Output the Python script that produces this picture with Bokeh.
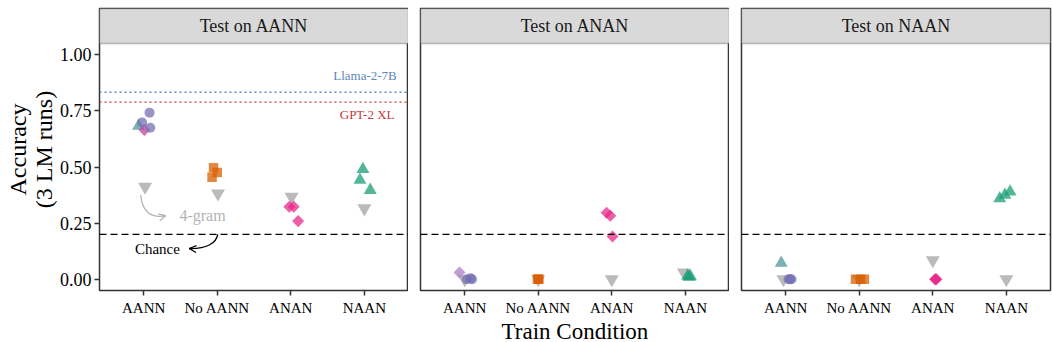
from bokeh.plotting import figure
from bokeh.layouts import row
from bokeh.models import (ColumnDataSource, Range1d, FixedTicker, NumeralTickFormatter,
                          Span, Label, BoxAnnotation, Arrow, OpenHead)
from bokeh.embed import file_html
from bokeh.resources import INLINE

# ---------------- data ----------------
categories = ["AANN", "No AANN", "ANAN", "NAAN"]
panel_titles = ["Test on AANN", "Test on ANAN", "Test on NAAN"]
y_ticks = [0.0, 0.25, 0.5, 0.75, 1.0]

# LM runs per panel: train condition, accuracy, small jitter, point style
p1_train = ["AANN", "AANN", "AANN", "AANN", "AANN", "No AANN", "No AANN", "No AANN",
            "ANAN", "ANAN", "ANAN", "NAAN", "NAAN", "NAAN"]
p1_acc = [0.683, 0.665, 0.742, 0.698, 0.675, 0.497, 0.475, 0.454,
          0.323, 0.323, 0.259, 0.490, 0.442, 0.397]
p1_jit = [-0.07, 0.01, 0.08, -0.02, 0.09, -0.05, 0.0, -0.07,
          -0.02, 0.04, 0.10, -0.02, -0.06, 0.08]
p1_style = ["tri_b", "dia_m", "circle", "circle", "circle", "square", "square", "square",
            "diamond", "diamond", "diamond", "triangle", "triangle", "triangle"]

p2_train = ["AANN", "AANN", "AANN", "AANN", "No AANN", "No AANN", "No AANN",
            "ANAN", "ANAN", "ANAN", "NAAN", "NAAN", "NAAN"]
p2_acc = [0.030, 0.004, 0.0, 0.0, 0.0, 0.0, 0.0,
          0.296, 0.283, 0.190, 0.015, 0.012, 0.010]
p2_jit = [-0.07, 0.08, 0.03, 0.10, -0.01, 0.01, 0.0,
          -0.07, -0.02, 0.01, 0.03, 0.07, 0.05]
p2_style = ["dia_l", "circle", "circle", "circle", "square", "square", "square",
            "diamond", "diamond", "diamond", "triangle", "triangle", "triangle"]

p3_train = ["AANN", "AANN", "AANN", "AANN", "No AANN", "No AANN", "No AANN",
            "ANAN", "ANAN", "ANAN", "NAAN", "NAAN", "NAAN"]
p3_acc = [0.073, 0.0, 0.0, 0.0, 0.0, 0.0, 0.0,
          0.0, 0.0, 0.0, 0.360, 0.375, 0.390]
p3_jit = [-0.06, 0.04, 0.06, 0.08, -0.05, 0.02, 0.07,
          0.03, 0.04, 0.05, -0.09, -0.02, 0.05]
p3_style = ["tri_b", "circle", "circle", "circle", "square", "square", "square",
            "diamond", "diamond", "diamond", "triangle", "triangle", "triangle"]

# 4-gram baseline per panel (one per train condition)
p1_ngram = [0.412, 0.382, 0.367, 0.316]
p2_ngram = [0.0, 0.0, 0.0, 0.030]
p3_ngram = [0.0, 0.0, 0.085, 0.0]
p1_ngram_jit = [0.02, 0.01, 0.01, 0.0]
p2_ngram_jit = [0.0, 0.0, 0.0, -0.02]
p3_ngram_jit = [-0.03, 0.0, 0.0, 0.0]

chance = 0.2
llama_acc = 0.833
gpt2_acc = 0.789

# ---------------- styles ----------------
STYLES = {
    "circle":   dict(marker="circle", color="#7570B3", size=10, angle=0.0),
    "square":   dict(marker="square", color="#D95F02", size=9.5, angle=0.0),
    "diamond":  dict(marker="square", color="#E7298A", size=8.5, angle=0.785398),
    "triangle": dict(marker="triangle", color="#1B9E77", size=13, angle=0.0),
    "tri_b":    dict(marker="triangle", color="#4f979c", size=13, angle=0.0),
    "dia_m":    dict(marker="square", color="#c2449a", size=8.5, angle=0.785398),
    "dia_l":    dict(marker="square", color="#b07cc6", size=8.5, angle=0.785398),
}
SERIF = "Liberation Serif"
DARK = "#333333"

panels = [
    (p1_train, p1_acc, p1_jit, p1_style, p1_ngram, p1_ngram_jit),
    (p2_train, p2_acc, p2_jit, p2_style, p2_ngram, p2_ngram_jit),
    (p3_train, p3_acc, p3_jit, p3_style, p3_ngram, p3_ngram_jit),
]

FRAME_H = 282
STRIP_H = 35
Y0, Y1 = -0.05, 1.05
Y_TOP = Y1 + STRIP_H * (Y1 - Y0) / (FRAME_H - STRIP_H)

borders = [(99, 0), (12, 0), (12, 2)]
figs = []
for i, (train, acc, jit, style, ngram, ngram_jit) in enumerate(panels):
    bl, br = borders[i]
    p = figure(frame_width=309, frame_height=FRAME_H, output_backend="svg",
               toolbar_location=None, x_range=Range1d(0.4, 4.6),
               y_range=Range1d(Y0, Y_TOP),
               min_border_left=bl, min_border_right=br, min_border_top=8,
               min_border_bottom=52)
    p.background_fill_color = "white"
    p.border_fill_color = "white"
    p.outline_line_color = DARK
    p.outline_line_width = 1.5
    p.xgrid.visible = False
    p.ygrid.visible = False

    # strip
    p.add_layout(BoxAnnotation(bottom=Y1, top=Y_TOP, fill_color="#d9d9d9", fill_alpha=1.0,
                               line_color=DARK, line_width=1.5, level="underlay"))
    p.add_layout(Label(x=2.5, y=(Y1 + Y_TOP) / 2, text=panel_titles[i], text_align="center",
                       text_baseline="middle", text_font=SERIF, text_font_size="18px",
                       text_color="#1a1a1a"))

    # chance line
    p.add_layout(Span(location=chance, dimension="width", line_color="black",
                      line_dash="7 4", line_width=1.4))

    # 4-gram
    ng_src = ColumnDataSource(dict(
        x=[k + 1 + j for k, j in enumerate(ngram_jit)], y=ngram))
    p.scatter("x", "y", source=ng_src, marker="inverted_triangle", size=14,
              fill_color="#a3a3a3", fill_alpha=0.75, line_color=None)

    # LM runs
    xs = [categories.index(t) + 1 + j for t, j in zip(train, jit)]
    order = ["tri_b", "dia_m", "dia_l", "circle", "square", "diamond", "triangle"]
    for s in order:
        idx = [k for k, st in enumerate(style) if st == s]
        if not idx:
            continue
        st = STYLES[s]
        src = ColumnDataSource(dict(x=[xs[k] for k in idx], y=[acc[k] for k in idx]))
        p.scatter("x", "y", source=src, marker=st["marker"], size=st["size"],
                  angle=st["angle"], fill_color=st["color"], fill_alpha=0.75,
                  line_color=None)

    # axes
    p.xaxis.ticker = FixedTicker(ticks=[1, 2, 3, 4])
    p.xaxis.major_label_overrides = {k + 1: c for k, c in enumerate(categories)}
    p.xaxis.major_label_text_font = SERIF
    p.xaxis.major_label_text_font_size = "15px"
    p.xaxis.major_label_text_color = "black"
    p.xaxis.major_label_standoff = 4
    for ax in (p.xaxis, p.yaxis):
        ax.axis_line_color = None
        ax.major_tick_line_color = DARK
        ax.major_tick_line_width = 1.5
        ax.major_tick_out = 5
        ax.major_tick_in = 0
        ax.minor_tick_line_color = None
    p.yaxis.ticker = FixedTicker(ticks=y_ticks)
    p.yaxis.formatter = NumeralTickFormatter(format="0.00")
    p.yaxis.major_label_text_font = SERIF
    p.yaxis.major_label_text_font_size = "18px"
    p.yaxis.major_label_text_color = "black"
    p.yaxis.major_label_standoff = 3
    if i == 0:
        p.yaxis.axis_label = "Accuracy\n(3 LM runs)"
        p.yaxis.axis_label_text_font = SERIF
        p.yaxis.axis_label_text_font_size = "24px"
        p.yaxis.axis_label_text_font_style = "normal"
        p.yaxis.axis_label_text_line_height = 1.0
        p.yaxis.axis_label_standoff = 0
        p.yaxis.axis_label_text_color = "black"
    else:
        p.yaxis.visible = False
    if i == 1:
        p.xaxis.axis_label = "Train Condition"
        p.xaxis.axis_label_text_font = SERIF
        p.xaxis.axis_label_text_font_size = "23px"
        p.xaxis.axis_label_text_font_style = "normal"
        p.xaxis.axis_label_standoff = 0
        p.xaxis.axis_label_text_color = "black"

    if i == 0:
        # model reference lines
        p.add_layout(Span(location=llama_acc, dimension="width", line_color="#5b8cc4",
                          line_dash="2 3", line_width=1.3))
        p.add_layout(Span(location=gpt2_acc, dimension="width", line_color="#d1363b",
                          line_dash="2 3", line_width=1.3))
        p.add_layout(Label(x=4.44, y=0.907, text="Llama-2-7B", text_align="right",
                           text_baseline="middle", text_font=SERIF, text_font_size="13px",
                           text_color="#5b87bd"))
        p.add_layout(Label(x=4.41, y=0.732, text="GPT-2 XL", text_align="right",
                           text_baseline="middle", text_font=SERIF, text_font_size="13px",
                           text_color="#c43a3a"))
        # 4-gram annotation
        p.add_layout(Label(x=1.80, y=0.283, text="4-gram", text_align="center",
                           text_baseline="middle", text_font=SERIF, text_font_size="16px",
                           text_color="#b3b3b3"))
        p.bezier(x0=[0.96], y0=[0.375], cx0=[0.98], cy0=[0.30], cx1=[1.10], cy1=[0.27],
                 x1=[1.30], y1=[0.283], line_color="#b3b3b3", line_width=1.3)
        p.add_layout(Arrow(end=OpenHead(size=7, line_color="#b3b3b3", line_width=1.3),
                           x_start=1.26, y_start=0.280, x_end=1.30, y_end=0.283,
                           line_color="#b3b3b3", line_width=1.3))
        # chance annotation
        p.add_layout(Label(x=1.187, y=0.137, text="Chance", text_align="center",
                           text_baseline="middle", text_font=SERIF, text_font_size="15px",
                           text_color="black"))
        p.bezier(x0=[2.006], y0=[0.2], cx0=[1.99], cy0=[0.16], cx1=[1.85], cy1=[0.135],
                 x1=[1.62], y1=[0.137], line_color="black", line_width=1.3)
        p.add_layout(Arrow(end=OpenHead(size=7, line_color="black", line_width=1.3),
                           x_start=1.66, y_start=0.136, x_end=1.62, y_end=0.137,
                           line_color="black", line_width=1.3))
    figs.append(p)

layout = row(*figs, spacing=0)
open("out.html", "w").write(file_html(layout, INLINE))
